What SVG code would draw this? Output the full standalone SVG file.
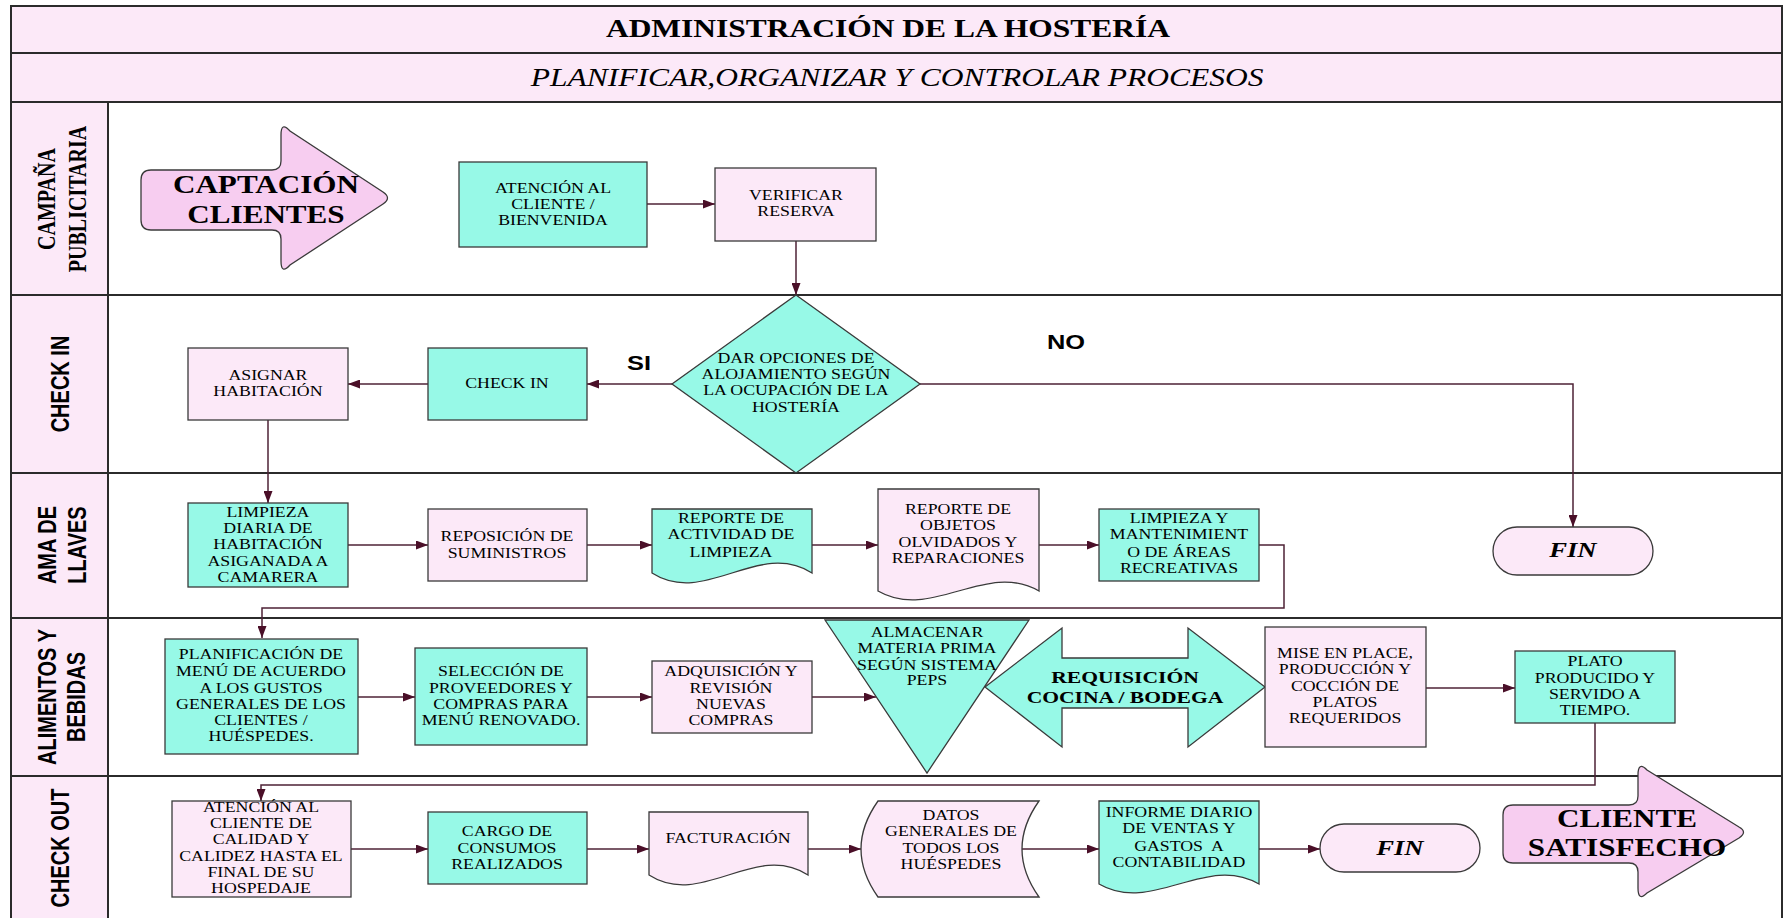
<svg xmlns="http://www.w3.org/2000/svg" width="1788" height="918" viewBox="0 0 1788 918">
  <style>
    .frame { fill: none; stroke: #2b2b2b; stroke-width: 2; }
    .hdr { fill: #fce9f8; }
    .lane { stroke: #2b2b2b; stroke-width: 2; }
    .aq { fill: #97f9e7; stroke: #3a3a3a; stroke-width: 1.3; }
    .pk { fill: #fce9f8; stroke: #3a3a3a; stroke-width: 1.3; }
    .big { fill: #f7cdf0; stroke: #3a3a3a; stroke-width: 1.3; }
    .con { fill: none; stroke: #4e2236; stroke-width: 1.5; marker-end: url(#ah); }
    .conl { fill: none; stroke: #4e2236; stroke-width: 1.5; }
    text { fill: #000; }
    .t, .tb, .ti, .fin, .lbl, .title, .sub {
      transform-box: fill-box; transform-origin: center; transform: scaleX(1.27);
      text-anchor: middle;
    }
    .t { font-family: "Liberation Serif", "Times New Roman", serif; font-size: 14px; }
    .tb { font-family: "Liberation Serif", "Times New Roman", serif; font-weight: bold; font-size: 24.5px; }
    .req { font-size: 17px; }
    .fin { font-family: "Liberation Serif", "Times New Roman", serif; font-weight: bold; font-style: italic; font-size: 21px; }
    .lbl { font-family: "Liberation Sans", Arial, sans-serif; font-weight: bold; font-size: 20px; }
    .title { font-family: "Liberation Serif", "Times New Roman", serif; font-weight: bold; font-size: 24.8px; }
    .sub { font-family: "Liberation Serif", "Times New Roman", serif; font-style: italic; font-size: 24.8px; }
    .lane-t { font-family: "Liberation Sans", Arial, sans-serif; font-weight: bold; font-size: 20px; text-anchor: middle; }
    .lane-s { font-family: "Liberation Serif", "Times New Roman", serif; font-weight: bold; font-size: 20px; text-anchor: middle; }
  </style>
  <defs>
    <marker id="ah" viewBox="0 0 12 9" refX="12" refY="4.5" markerWidth="12" markerHeight="9" markerUnits="userSpaceOnUse" orient="auto">
      <path d="M0,0 L12,4.5 L0,9 z" fill="#4a0f28"/>
    </marker>
  </defs>

  <!-- page, header rows and swimlanes -->
  <g id="lanes">
    <rect x="0" y="0" width="1788" height="918" fill="#ffffff"/>
    <rect class="hdr" x="11" y="6" width="1771" height="96"/>
    <rect class="hdr" x="11" y="102" width="97" height="820"/>
    <rect class="frame" x="11" y="6" width="1771" height="930"/>
    <line class="lane" x1="11" y1="53" x2="1782" y2="53"/>
    <line class="lane" x1="11" y1="102" x2="1782" y2="102"/>
    <line class="lane" x1="11" y1="295" x2="1782" y2="295"/>
    <line class="lane" x1="11" y1="473" x2="1782" y2="473"/>
    <line class="lane" x1="11" y1="618" x2="1782" y2="618"/>
    <line class="lane" x1="11" y1="776" x2="1782" y2="776"/>
    <line class="lane" x1="108" y1="102" x2="108" y2="918"/>
    <text class="title" x="888" y="37">ADMINISTRACIÓN DE LA HOSTERÍA</text>
    <text class="sub" x="897" y="86">PLANIFICAR,ORGANIZAR Y CONTROLAR PROCESOS</text>
  </g>

  <g id="lane-labels">
    <g transform="translate(0,199) scale(1.27,1) rotate(-90)">
      <text class="lane-s" x="0" y="43.3">CAMPAÑA</text>
      <text class="lane-s" x="0" y="67.7">PUBLICITARIA</text>
    </g>
    <g transform="translate(0,384) scale(1.27,1) rotate(-90)">
      <text class="lane-t" x="0" y="54.3">CHECK IN</text>
    </g>
    <g transform="translate(0,545) scale(1.27,1) rotate(-90)">
      <text class="lane-t" x="0" y="44.1">AMA DE</text>
      <text class="lane-t" x="0" y="67.7">LLAVES</text>
    </g>
    <g transform="translate(0,697) scale(1.27,1) rotate(-90)">
      <text class="lane-t" x="0" y="44.1">ALIMENTOS Y</text>
      <text class="lane-t" x="0" y="67.2">BEBIDAS</text>
    </g>
    <g transform="translate(0,848) scale(1.27,1) rotate(-90)">
      <text class="lane-t" x="0" y="54.3">CHECK OUT</text>
    </g>
  </g>

  <!-- flow connectors -->
  <g id="connectors">
    <path class="con" d="M647,204 H715"/>
    <path class="con" d="M796,241 V295"/>
    <path class="con" d="M672,384 H587"/>
    <path class="con" d="M428,384 H348"/>
    <path class="con" d="M268,420 V503"/>
    <path class="con" d="M920,384 H1573 V527"/>
    <path class="con" d="M348,545 H428"/>
    <path class="con" d="M587,545 H652"/>
    <path class="con" d="M812,545 H878"/>
    <path class="con" d="M1039,545 H1099"/>
    <path class="con" d="M1259,545 H1284 V608 H262 V638"/>
    <path class="con" d="M358,697 H415"/>
    <path class="con" d="M587,697 H652"/>
    <path class="con" d="M812,697 H876"/>
    <path class="con" d="M1426,688 H1515"/>
    <path class="con" d="M1595,723 V785 H261 V801"/>
    <path class="con" d="M351,849 H428"/>
    <path class="con" d="M587,849 H649"/>
    <path class="con" d="M808,849 H861"/>
    <path class="con" d="M1022,849 H1099"/>
    <path class="con" d="M1259,849 H1320"/>
    <text class="lbl" x="639" y="370">SI</text>
    <text class="lbl" x="1066" y="349">NO</text>
  </g>

  <g id="captacion">
    <path class="big" d="M151,170 H272 Q281,170 281,161 V135 Q281,121 290,131 L383,192 Q392,198 383,204 L290,265 Q281,275 281,261 V239 Q281,230 272,230 H151 Q141,230 141,220 V180 Q141,170 151,170 Z"/>
    <text class="tb" x="266" y="193">CAPTACIÓN</text>
    <text class="tb" x="266" y="223">CLIENTES</text>
  </g>

  <g id="atencion-bienvenida">
    <rect class="aq" x="459" y="162" width="188" height="85"/>
    <text class="t" x="553" y="193">ATENCIÓN AL</text>
    <text class="t" x="553" y="209">CLIENTE /</text>
    <text class="t" x="553" y="225">BIENVENIDA</text>
  </g>

  <g id="verificar-reserva">
    <rect class="pk" x="715" y="168" width="161" height="73"/>
    <text class="t" x="796" y="200">VERIFICAR</text>
    <text class="t" x="796" y="216">RESERVA</text>
  </g>

  <g id="opciones-alojamiento">
    <path class="aq" d="M796,295 L920,384 L796,473 L672,384 Z"/>
    <text class="t" x="796" y="363">DAR OPCIONES DE</text>
    <text class="t" x="796" y="379">ALOJAMIENTO SEGÚN</text>
    <text class="t" x="796" y="395">LA OCUPACIÓN DE LA</text>
    <text class="t" x="796" y="412">HOSTERÍA</text>
  </g>

  <g id="check-in">
    <rect class="aq" x="428" y="348" width="159" height="72"/>
    <text class="t" x="507" y="388">CHECK IN</text>
  </g>

  <g id="asignar-habitacion">
    <rect class="pk" x="188" y="348" width="160" height="72"/>
    <text class="t" x="268" y="380">ASIGNAR</text>
    <text class="t" x="268" y="396">HABITACIÓN</text>
  </g>

  <g id="fin-1">
    <rect class="pk" x="1493" y="527" width="160" height="48" rx="24" ry="24"/>
    <text class="fin" x="1573" y="557">FIN</text>
  </g>

  <g id="limpieza-diaria">
    <rect class="aq" x="188" y="503" width="160" height="84"/>
    <text class="t" x="268" y="517">LIMPIEZA</text>
    <text class="t" x="268" y="533">DIARIA DE</text>
    <text class="t" x="268" y="549">HABITACIÓN</text>
    <text class="t" x="268" y="566">ASIGANADA A</text>
    <text class="t" x="268" y="582">CAMARERA</text>
  </g>

  <g id="reposicion">
    <rect class="pk" x="428" y="509" width="159" height="72"/>
    <text class="t" x="507" y="541">REPOSICIÓN DE</text>
    <text class="t" x="507" y="558">SUMINISTROS</text>
  </g>

  <g id="reporte-actividad">
    <path class="aq" d="M652,509 H812 V573 C758.7,539 705.3,607 652,573 Z"/>
    <text class="t" x="731" y="523">REPORTE DE</text>
    <text class="t" x="731" y="539">ACTIVIDAD DE</text>
    <text class="t" x="731" y="557">LIMPIEZA</text>
  </g>

  <g id="reporte-objetos">
    <path class="pk" d="M878,489 H1039 V591 C985.3,560 931.7,622 878,591 Z"/>
    <text class="t" x="958" y="514">REPORTE DE</text>
    <text class="t" x="958" y="530">OBJETOS</text>
    <text class="t" x="958" y="547">OLVIDADOS Y</text>
    <text class="t" x="958" y="563">REPARACIONES</text>
  </g>

  <g id="limpieza-areas">
    <rect class="aq" x="1099" y="509" width="160" height="72"/>
    <text class="t" x="1179" y="523">LIMPIEZA Y</text>
    <text class="t" x="1179" y="539">MANTENIMIENT</text>
    <text class="t" x="1179" y="557">O DE ÁREAS</text>
    <text class="t" x="1179" y="573">RECREATIVAS</text>
  </g>

  <g id="planificacion-menu">
    <rect class="aq" x="165" y="639" width="193" height="115"/>
    <text class="t" x="261" y="659">PLANIFICACIÓN DE</text>
    <text class="t" x="261" y="676">MENÚ DE ACUERDO</text>
    <text class="t" x="261" y="693">A LOS GUSTOS</text>
    <text class="t" x="261" y="709">GENERALES DE LOS</text>
    <text class="t" x="261" y="725">CLIENTES /</text>
    <text class="t" x="261" y="741">HUÉSPEDES.</text>
  </g>

  <g id="seleccion-proveedores">
    <rect class="aq" x="415" y="648" width="172" height="97"/>
    <text class="t" x="501" y="676">SELECCIÓN DE</text>
    <text class="t" x="501" y="693">PROVEEDORES Y</text>
    <text class="t" x="501" y="709">COMPRAS PARA</text>
    <text class="t" x="501" y="725">MENÚ RENOVADO.</text>
  </g>

  <g id="adquisicion">
    <rect class="pk" x="652" y="661" width="160" height="72"/>
    <text class="t" x="731" y="676">ADQUISICIÓN Y</text>
    <text class="t" x="731" y="693">REVISIÓN</text>
    <text class="t" x="731" y="709">NUEVAS</text>
    <text class="t" x="731" y="725">COMPRAS</text>
  </g>

  <g id="almacenar">
    <path class="aq" d="M825,620 H1029 L927,773 Z"/>
    <text class="t" x="927" y="637">ALMACENAR</text>
    <text class="t" x="927" y="653">MATERIA PRIMA</text>
    <text class="t" x="927" y="670">SEGÚN SISTEMA</text>
    <text class="t" x="927" y="685">PEPS</text>
  </g>

  <g id="requisicion">
    <path class="aq" d="M985,687 L1062,628 V658 H1188 V628 L1265,687 L1188,747 V708 H1062 V747 Z"/>
    <text class="tb req" x="1125" y="683">REQUISICIÓN</text>
    <text class="tb req" x="1125" y="703">COCINA / BODEGA</text>
  </g>

  <g id="mise-en-place">
    <rect class="pk" x="1265" y="627" width="161" height="120"/>
    <text class="t" x="1345" y="658">MISE EN PLACE,</text>
    <text class="t" x="1345" y="674">PRODUCCIÓN Y</text>
    <text class="t" x="1345" y="691">COCCIÓN DE</text>
    <text class="t" x="1345" y="707">PLATOS</text>
    <text class="t" x="1345" y="723">REQUERIDOS</text>
  </g>

  <g id="plato-producido">
    <rect class="aq" x="1515" y="651" width="160" height="72"/>
    <text class="t" x="1595" y="666">PLATO</text>
    <text class="t" x="1595" y="683">PRODUCIDO Y</text>
    <text class="t" x="1595" y="699">SERVIDO A</text>
    <text class="t" x="1595" y="715">TIEMPO.</text>
  </g>

  <g id="atencion-calidad">
    <rect class="pk" x="172" y="801" width="179" height="96"/>
    <text class="t" x="261" y="812">ATENCIÓN AL</text>
    <text class="t" x="261" y="828">CLIENTE DE</text>
    <text class="t" x="261" y="844">CALIDAD Y</text>
    <text class="t" x="261" y="861">CALIDEZ HASTA EL</text>
    <text class="t" x="261" y="877">FINAL DE SU</text>
    <text class="t" x="261" y="893">HOSPEDAJE</text>
  </g>

  <g id="cargo-consumos">
    <rect class="aq" x="428" y="812" width="159" height="72"/>
    <text class="t" x="507" y="836">CARGO DE</text>
    <text class="t" x="507" y="853">CONSUMOS</text>
    <text class="t" x="507" y="869">REALIZADOS</text>
  </g>

  <g id="facturacion">
    <path class="pk" d="M649,812 H808 V875 C755,841 702,909 649,875 Z"/>
    <text class="t" x="728" y="843">FACTURACIÓN</text>
  </g>

  <g id="datos-huespedes">
    <path class="pk" d="M878,801 H1039 Q1005,849 1039,897 H878 Q844,849 878,801 Z"/>
    <text class="t" x="951" y="820">DATOS</text>
    <text class="t" x="951" y="836">GENERALES DE</text>
    <text class="t" x="951" y="853">TODOS LOS</text>
    <text class="t" x="951" y="869">HUÉSPEDES</text>
  </g>

  <g id="informe-diario">
    <path class="aq" d="M1099,801 H1259 V884 C1205.7,853 1152.3,915 1099,884 Z"/>
    <text class="t" x="1179" y="817">INFORME DIARIO</text>
    <text class="t" x="1179" y="833">DE VENTAS Y</text>
    <text class="t" x="1179" y="851" xml:space="preserve">GASTOS  A</text>
    <text class="t" x="1179" y="867">CONTABILIDAD</text>
  </g>

  <g id="fin-2">
    <rect class="pk" x="1320" y="824" width="160" height="48" rx="24" ry="24"/>
    <text class="fin" x="1400" y="855">FIN</text>
  </g>

  <g id="cliente-satisfecho">
    <path class="big" d="M1513,805 H1629 Q1638,805 1638,796 V775 Q1638,761 1647,770 L1739,827 Q1748,832 1739,838 L1647,893 Q1638,902 1638,888 V872 Q1638,863 1629,863 H1513 Q1503,863 1503,853 V815 Q1503,805 1513,805 Z"/>
    <text class="tb" x="1627" y="827">CLIENTE</text>
    <text class="tb" x="1627" y="856">SATISFECHO</text>
  </g>
</svg>
